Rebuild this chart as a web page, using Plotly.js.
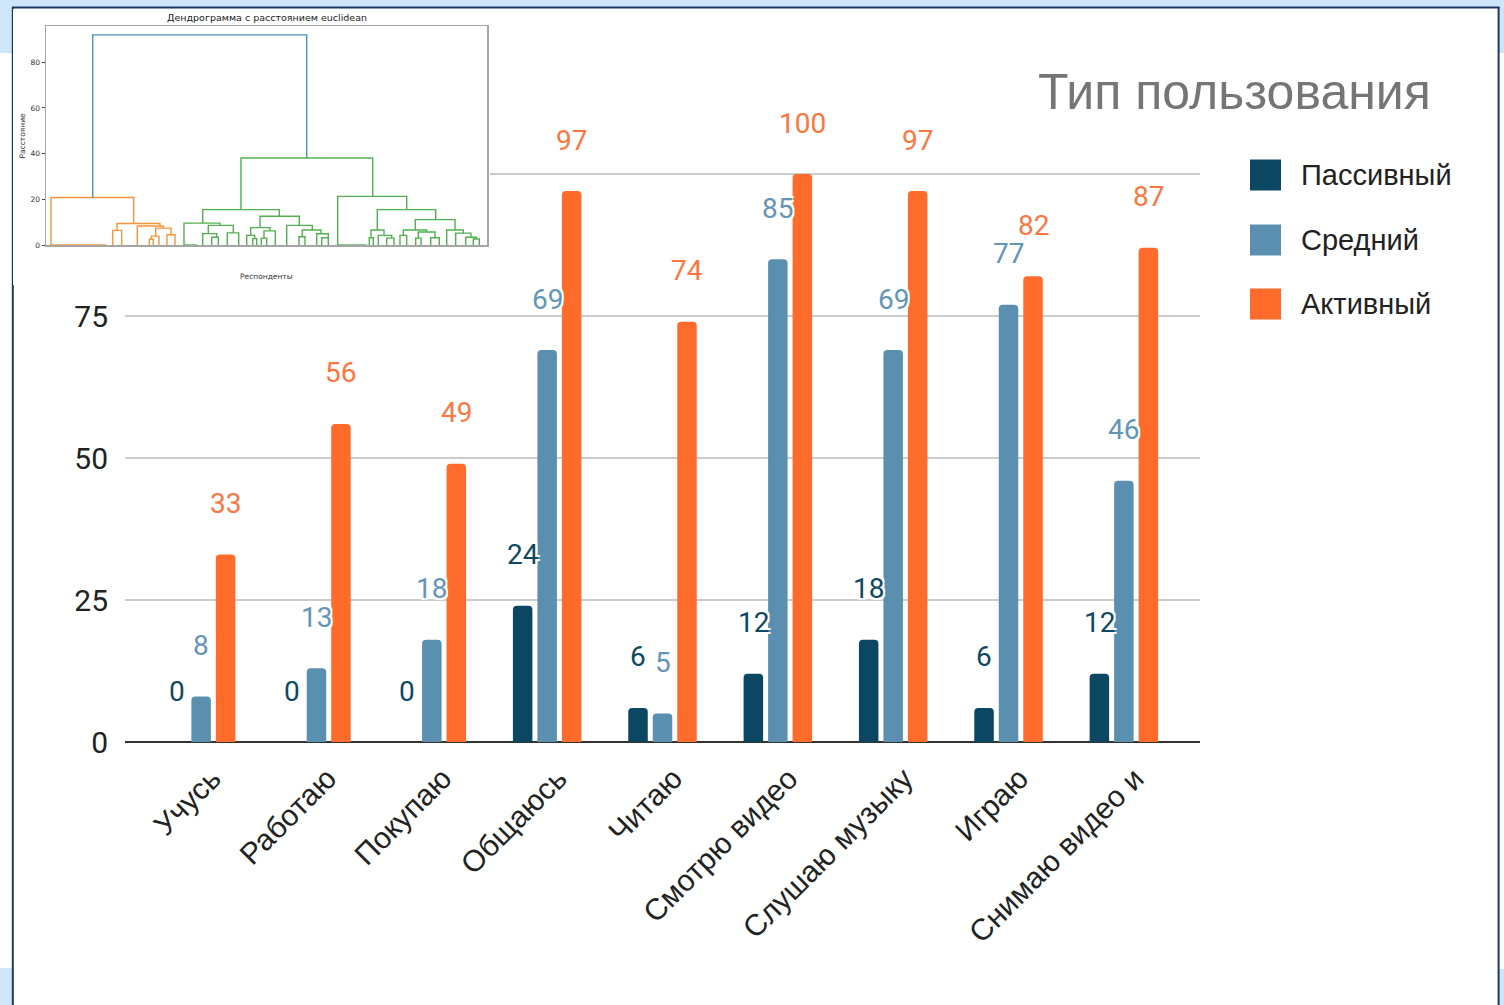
<!DOCTYPE html>
<html>
<head>
<meta charset="utf-8">
<script src="https://cdn.plot.ly/plotly-3.0.1.min.js"></script>
<style>
  html, body { margin: 0; padding: 0; background: #ffffff; }
  #wrap { position: relative; width: 1504px; height: 1005px; overflow: hidden; }
  #main { position: absolute; left: 0; top: 0; width: 1504px; height: 1005px; }
  #inset { position: absolute; left: 13px; top: 9px; width: 477px; height: 276px; }
</style>
</head>
<body>
<div id="wrap">
  <div id="main"></div>
  <div id="inset"></div>
</div>
<script>
// ---------------- main chart data ----------------
const chartTitle = 'Тип пользования';
const categories = ['Учусь', 'Работаю', 'Покупаю', 'Общаюсь', 'Читаю', 'Смотрю видео', 'Слушаю музыку', 'Играю', 'Снимаю видео и'];
const seriesNames = ['Пассивный', 'Средний', 'Активный'];
const passiveValues = [0, 0, 0, 24, 6, 12, 18, 6, 12];
const middleValues = [8, 13, 18, 69, 5, 85, 69, 77, 46];
const activeValues = [33, 56, 49, 97, 74, 100, 97, 82, 87];
const yTickValues = [0, 25, 50, 75, 100];

// ---------------- inset dendrogram data ----------------
const dendroTitle = 'Дендрограмма с расстоянием euclidean';
const dendroYLabel = 'Расстояние';
const dendroXLabel = 'Респонденты';
const dendroYTicks = [0, 20, 40, 60, 80];
// each link: 4 leaf-axis positions and 4 heights (distance), like scipy icoord/dcoord
const linkX = [
  [92.7, 92.7, 306.7, 306.7],
  [51, 51, 133.7, 133.7],
  [50, 50, 106, 106],
  [117, 117, 160, 160],
  [112.7, 112.7, 121.7, 121.7],
  [137.3, 137.3, 163.3, 163.3],
  [155.7, 155.7, 171, 171],
  [151.3, 151.3, 159, 159],
  [149.3, 149.3, 153.3, 153.3],
  [167, 167, 175, 175],
  [241, 241, 372.7, 372.7],
  [202.7, 202.7, 279.3, 279.3],
  [184, 184, 220, 220],
  [184, 184, 197, 197],
  [208.3, 208.3, 233.3, 233.3],
  [202.7, 202.7, 216.7, 216.7],
  [211.7, 211.7, 218.3, 218.3],
  [227.3, 227.3, 238.7, 238.7],
  [260, 260, 299.3, 299.3],
  [250.7, 250.7, 270, 270],
  [246.7, 246.7, 254.7, 254.7],
  [252.7, 252.7, 256.7, 256.7],
  [264, 264, 275.3, 275.3],
  [261.3, 261.3, 266.7, 266.7],
  [286.7, 286.7, 312.3, 312.3],
  [302.3, 302.3, 321, 321],
  [299, 299, 305, 305],
  [316.7, 316.7, 328.3, 328.3],
  [321.7, 321.7, 328.3, 328.3],
  [337.7, 337.7, 406.7, 406.7],
  [337.7, 337.7, 366.7, 366.7],
  [377.3, 377.3, 435.7, 435.7],
  [371, 371, 384, 384],
  [369.3, 369.3, 373.3, 373.3],
  [378.3, 378.3, 391.7, 391.7],
  [386.7, 386.7, 394, 394],
  [415.3, 415.3, 455, 455],
  [403.3, 403.3, 426.7, 426.7],
  [400, 400, 406.7, 406.7],
  [418.3, 418.3, 435, 435],
  [415.7, 415.7, 421, 421],
  [430.7, 430.7, 439.3, 439.3],
  [446.7, 446.7, 463.3, 463.3],
  [455.7, 455.7, 471, 471],
  [465.7, 465.7, 476.3, 476.3],
  [473.3, 473.3, 479.3, 479.3]
];
const linkH = [
  [20.8, 92, 92, 38.1],
  [0, 20.8, 20.8, 9.4],
  [0, 0, 0, 0],
  [6.4, 9.4, 9.4, 8.3],
  [0, 6.4, 6.4, 0],
  [0, 8.3, 8.3, 7.4],
  [3.9, 7.4, 7.4, 4.5],
  [2.5, 3.9, 3.9, 0],
  [0, 2.5, 2.5, 0],
  [0, 4.5, 4.5, 0],
  [15.5, 38.1, 38.1, 21.3],
  [9.6, 15.5, 15.5, 12.6],
  [0, 9.6, 9.6, 8.6],
  [0, 0, 0, 0],
  [5.0, 8.6, 8.6, 5.3],
  [0, 5.0, 5.0, 3.4],
  [0, 3.4, 3.4, 0],
  [0, 5.3, 5.3, 0],
  [7.6, 12.6, 12.6, 8.6],
  [4.2, 7.6, 7.6, 6.2],
  [0, 4.2, 4.2, 2.8],
  [0, 2.8, 2.8, 0],
  [3.0, 6.2, 6.2, 0],
  [0, 3.0, 3.0, 0],
  [0, 8.6, 8.6, 6.6],
  [3.6, 6.6, 6.6, 4.9],
  [0, 3.6, 3.6, 0],
  [0, 4.9, 4.9, 3.2],
  [0, 3.2, 3.2, 0],
  [0, 21.3, 21.3, 15.5],
  [0, 0, 0, 0],
  [6.6, 15.5, 15.5, 11.1],
  [3.2, 6.6, 6.6, 4.2],
  [0, 3.2, 3.2, 0],
  [0, 4.2, 4.2, 3.0],
  [0, 3.0, 3.0, 0],
  [6.6, 11.1, 11.1, 6.6],
  [4.2, 6.6, 6.6, 5.7],
  [0, 4.2, 4.2, 0],
  [3.0, 5.7, 5.7, 3.2],
  [0, 3.0, 3.0, 0],
  [0, 3.2, 3.2, 0],
  [0, 6.6, 6.6, 5.2],
  [0, 5.2, 5.2, 3.4],
  [0, 3.4, 3.4, 2.6],
  [0, 2.6, 2.6, 0]
];
const linkCluster = ['C0', 'C1', 'C1', 'C1', 'C1', 'C1', 'C1', 'C1', 'C1', 'C1',
  'C2', 'C2', 'C2', 'C2', 'C2', 'C2', 'C2', 'C2', 'C2', 'C2', 'C2', 'C2', 'C2', 'C2', 'C2', 'C2', 'C2', 'C2', 'C2',
  'C2', 'C2', 'C2', 'C2', 'C2', 'C2', 'C2', 'C2', 'C2', 'C2', 'C2', 'C2', 'C2', 'C2', 'C2', 'C2', 'C2'];

// ---------------- styles ----------------
const barColors = ['#0b4662', '#5a8fb0', '#ff6b2b'];
const labelColors = ['#0f4862', '#6395b6', '#fb7641'];
const clusterColors = { C0: '#4a90c4', C1: '#f7953c', C2: '#52b052' };
const W = 1504, H = 1005;
const fx = p => p / W;
const fy = p => 1 - p / H;

const seriesValues = [passiveValues, middleValues, activeValues];

const traces = seriesValues.map((vals, i) => ({
  type: 'bar',
  name: seriesNames[i],
  x: categories,
  y: vals,
  marker: { color: barColors[i], cornerradius: 4 },
  showlegend: false,
  hoverinfo: 'x+y+name'
}));

const annotations = [];
const slot = 24.5;
seriesValues.forEach((vals, i) => {
  vals.forEach((v, j) => {
    annotations.push({
      x: categories[j], y: v, xref: 'x', yref: 'y',
      xshift: (i - 1) * slot, yshift: 51,
      text: String(v), showarrow: false,
      xanchor: 'center', yanchor: 'middle',
      font: { family: 'Roboto, sans-serif', size: 28, color: labelColors[i],
              shadow: '-2px -2px 0 #fff, 2px -2px 0 #fff, -2px 2px 0 #fff, 2px 2px 0 #fff' }
    });
  });
});

// title
annotations.push({
  x: fx(1234), y: fy(92), xref: 'paper', yref: 'paper',
  text: chartTitle, showarrow: false, xanchor: 'center', yanchor: 'middle',
  font: { family: 'Liberation Sans, Arial, sans-serif', size: 50, color: '#757575' }
});

// manual legend
const shapes = [];
const legendY = [175, 240, 304];
seriesNames.forEach((n, i) => {
  shapes.push({ type: 'rect', xref: 'paper', yref: 'paper',
    x0: fx(1250), x1: fx(1281), y0: fy(legendY[i] - 15.5), y1: fy(legendY[i] + 15.5),
    fillcolor: barColors[i], line: { width: 0 } });
  annotations.push({ x: fx(1299), y: fy(legendY[i]), xref: 'paper', yref: 'paper',
    text: n, showarrow: false, xanchor: 'left', yanchor: 'middle',
    font: { family: 'Liberation Sans, Arial, sans-serif', size: 29, color: '#222222' } });
});

// slide background decorations
const lightBlue = '#cfe6f8';
const navy = '#1d3767';
[[0, 1504, 0, 7], [0, 12, 0, 53], [0, 12, 968, 1005], [1499, 1504, 0, 53], [1499, 1504, 969, 1005]].forEach(r => {
  shapes.push({ type: 'rect', xref: 'paper', yref: 'paper', layer: 'below',
    x0: fx(r[0]), x1: fx(r[1]), y0: fy(r[2]), y1: fy(r[3]), fillcolor: lightBlue, line: { width: 0 } });
});
shapes.push({ type: 'line', xref: 'paper', yref: 'paper', x0: fx(12.8), x1: fx(12.8), y0: fy(7), y1: fy(1005), line: { color: navy, width: 2 } });
shapes.push({ type: 'line', xref: 'paper', yref: 'paper', x0: fx(1498.6), x1: fx(1498.6), y0: fy(7), y1: fy(1005), line: { color: navy, width: 2 } });
shapes.push({ type: 'line', xref: 'paper', yref: 'paper', x0: fx(12), x1: fx(1499.5), y0: fy(7.6), y1: fy(7.6), line: { color: navy, width: 2 } });

const yTop = (742 - 140) / 5.68;

const layout = {
  width: W, height: H,
  margin: { l: 0, r: 0, t: 0, b: 0, pad: 0 },
  paper_bgcolor: '#ffffff', plot_bgcolor: 'rgba(0,0,0,0)',
  barmode: 'group', bargap: 0.363, bargroupgap: 0.204,
  showlegend: false,
  xaxis: {
    type: 'category', domain: [fx(125), fx(1200)], range: [-0.66, 8.66],
    tickangle: -45, ticks: 'outside', ticklen: 6, tickcolor: 'rgba(0,0,0,0)',
    ticklabelshift: 11,
    tickfont: { family: 'Liberation Sans, Arial, sans-serif', size: 30, color: '#222222' },
    showgrid: false, showline: false, zeroline: false, automargin: false, fixedrange: true
  },
  yaxis: {
    domain: [fy(742), fy(140)], range: [0, yTop],
    tickvals: yTickValues, ticktext: yTickValues.map(String),
    ticks: 'outside', ticklen: 10, tickcolor: 'rgba(0,0,0,0)',
    tickfont: { family: 'Roboto, sans-serif', size: 30, color: '#222222' },
    showgrid: true, gridcolor: '#cccccc', gridwidth: 2,
    zeroline: true, zerolinecolor: '#333333', zerolinewidth: 2.5,
    showline: false, automargin: false, fixedrange: true
  },
  annotations: annotations,
  shapes: shapes
};

Plotly.newPlot('main', traces, layout, { displayModeBar: false, staticPlot: true });

// ---------------- inset dendrogram ----------------
const dendroTraces = ['C1', 'C2', 'C0'].map(c => {
  const xs = [], ys = [];
  linkX.forEach((lx, k) => {
    if (linkCluster[k] !== c) return;
    xs.push(...lx, null);
    ys.push(...linkH[k], null);
  });
  return { type: 'scatter', mode: 'lines', x: xs, y: ys, xaxis: 'x', yaxis: 'y',
    line: { color: clusterColors[c], width: 1.4 }, hoverinfo: 'skip', showlegend: false, cliponaxis: false };
});

const insetLayout = {
  width: 477, height: 276,
  margin: { l: 33, r: 3, t: 17, b: 40, pad: 0 },
  paper_bgcolor: '#ffffff', plot_bgcolor: '#ffffff',
  showlegend: false,
  xaxis: { range: [46, 487], showticklabels: false, ticks: '', showgrid: false, zeroline: false,
    showline: true, mirror: true, linecolor: '#a5a5a5', linewidth: 1.5, fixedrange: true },
  yaxis: { range: [0, 95.9], tickvals: dendroYTicks, ticks: 'outside', ticklen: 3, tickcolor: '#444',
    tickfont: { family: 'DejaVu Sans, sans-serif', size: 7.5, color: '#333' },
    showgrid: false, zeroline: false, showline: true, mirror: true, linecolor: '#a5a5a5', linewidth: 1.5, fixedrange: true },
  annotations: [
    { xref: 'paper', yref: 'paper', x: 0.5, y: 1, yshift: 9, text: dendroTitle, showarrow: false,
      xanchor: 'center', yanchor: 'middle', font: { family: 'DejaVu Sans, sans-serif', size: 9.5, color: '#222' } },
    { xref: 'paper', yref: 'paper', x: 0, xshift: -24, y: 0.5, text: dendroYLabel, showarrow: false, textangle: -90,
      xanchor: 'center', yanchor: 'middle', font: { family: 'DejaVu Sans, sans-serif', size: 7.5, color: '#333' } },
    { xref: 'paper', yref: 'paper', x: 0.5, y: 0, yshift: -31, text: dendroXLabel, showarrow: false,
      xanchor: 'center', yanchor: 'middle', font: { family: 'DejaVu Sans, sans-serif', size: 7.5, color: '#333' } }
  ]
};

Plotly.newPlot('inset', dendroTraces, insetLayout, { displayModeBar: false, staticPlot: true });
</script>
</body>
</html>
